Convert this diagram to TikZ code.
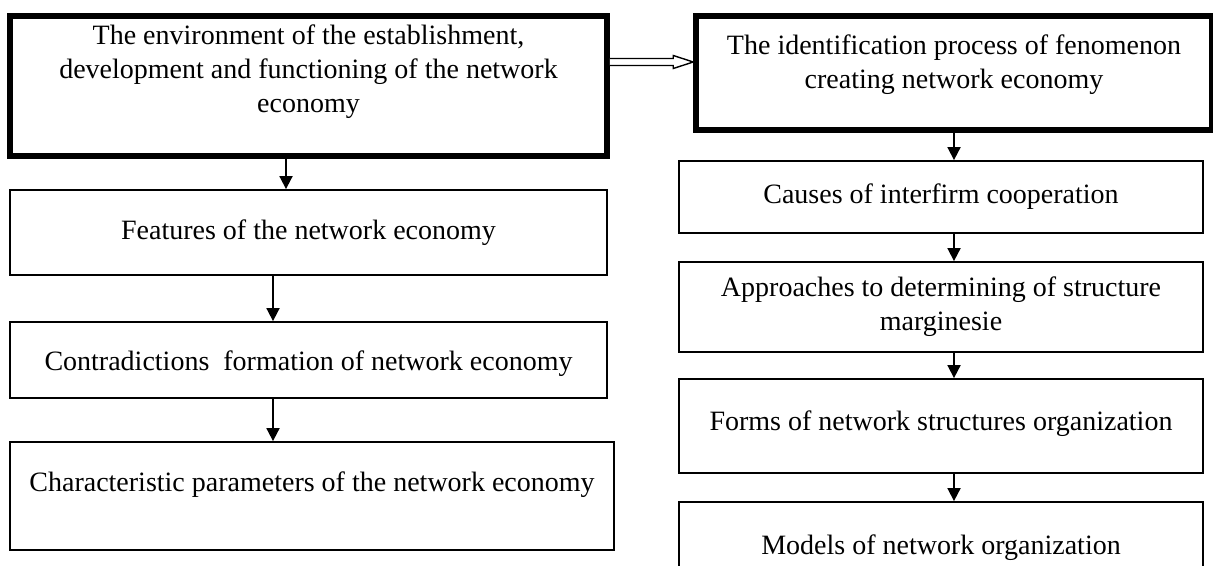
\documentclass[tikz,border=0pt]{standalone}
\usepackage{fontspec}
\setmainfont{Liberation Serif}
\usetikzlibrary{arrows.meta}

\begin{document}
\begin{tikzpicture}[x=0.5pt,y=-0.5pt,
        box/.style={draw,line width=0.9pt,align=center,inner sep=2pt,font=\fontsize{14}{17}\selectfont},
        thickbox/.style={box,line width=2.75pt},
        flow/.style={line width=0.9pt,-{Triangle[length=6.5pt,width=6.5pt]}},
        hollow/.style={line width=0.7pt,fill=white}]
                \useasboundingbox (0,0) rectangle (1213,566);
                % left column
                \node[thickbox,minimum width=298.5pt,minimum height=70pt,text depth=17pt] (envA) at (308.5,86) {The environment of the establishment,\\ development and functioning of the network\\ economy};
                \node[box,minimum width=298.5pt,minimum height=42.5pt] (features) at (308.5,232.5) {Features of the network economy};
                \node[box,minimum width=298.5pt,minimum height=38pt,text height=13.8pt] (contra) at (308.5,360) {Contradictions~ formation of network economy};
                \node[box,minimum width=302pt,minimum height=54pt,text depth=14pt] (charac) at (312,496) {Characteristic parameters of the network economy};
                % right column
                \node[thickbox,minimum width=258pt,minimum height=57pt,text depth=11pt] (envE) at (954,73) {The identification process of fenomenon\\ creating network economy};
                \node[box,minimum width=262pt,minimum height=36pt] (causes) at (941,197) {Causes of interfirm cooperation};
                \node[box,minimum width=262pt,minimum height=45pt] (approach) at (941,307) {Approaches to determining of structure\\ marginesie};
                \node[box,minimum width=262pt,minimum height=47pt,text depth=5pt] (forms) at (941,426) {Forms of network structures organization};
                \node[box,minimum width=262pt,minimum height=46pt] (models) at (941,548) {Models of network organization};
                % arrows left
                \coordinate (lA) at ([xshift=-11.25pt]envA.south);
                \coordinate (lB) at ([xshift=-17.75pt]features.south);
                \draw[flow] (lA) -- (lA |- features.north);
                \draw[flow] (lB) -- (lB |- contra.north);
                \draw[flow] (contra.south -| lB) -- (charac.north -| lB);
                % arrows right
                \draw[flow] (envE.south) -- (envE.south |- causes.north);
                \draw[flow] (causes.south -| envE.south) -- (approach.north -| envE.south);
                \draw[flow] (approach.south -| envE.south) -- (forms.north -| envE.south);
                \draw[flow] (forms.south -| envE.south) -- (models.north -| envE.south);
                % hollow arrow between the two columns
                \coordinate (hstart) at ([yshift=12pt]envA.east);
                \coordinate (hend) at (hstart -| envE.west);
                \draw[hollow] ([yshift=1.75pt]hstart) -- ([shift={(-10pt,1.75pt)}]hend) -- ([shift={(-10pt,3.25pt)}]hend) -- (hend)
                    -- ([shift={(-10pt,-3.25pt)}]hend) -- ([shift={(-10pt,-1.75pt)}]hend) -- ([yshift=-1.75pt]hstart);
            \end{tikzpicture}
\end{document}
